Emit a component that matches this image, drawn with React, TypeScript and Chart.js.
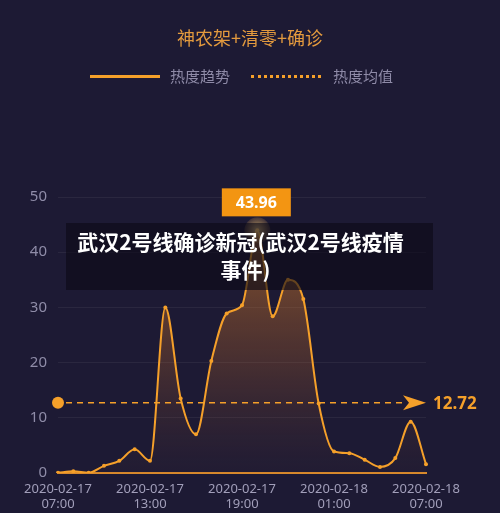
import React, { useEffect, useRef } from "react";
import { Chart, registerables } from "chart.js";

Chart.register(...registerables);

const chartTitle = "神农架+清零+确诊";
const legendTrend = "热度趋势";
const legendAverage = "热度均值";
const overlayLines = ["武汉2号线确诊新冠(武汉2号线疫情", "事件)"];

const timeLabels = [
  "2020-02-17 07:00", "2020-02-17 08:00", "2020-02-17 09:00", "2020-02-17 10:00",
  "2020-02-17 11:00", "2020-02-17 12:00", "2020-02-17 13:00", "2020-02-17 14:00",
  "2020-02-17 15:00", "2020-02-17 16:00", "2020-02-17 17:00", "2020-02-17 18:00",
  "2020-02-17 19:00", "2020-02-17 20:00", "2020-02-17 21:00", "2020-02-17 22:00",
  "2020-02-17 23:00", "2020-02-18 00:00", "2020-02-18 01:00", "2020-02-18 02:00",
  "2020-02-18 03:00", "2020-02-18 04:00", "2020-02-18 05:00", "2020-02-18 06:00",
  "2020-02-18 07:00",
];

const heatValues = [
  0.05, 0.3, 0.05, 1.3, 2.2, 4.3, 2.2, 30, 13.5, 7, 20.3, 28.9, 30.4,
  43.96, 28.4, 35, 31.5, 12.6, 3.9, 3.6, 2.4, 1.1, 2.7, 9.3, 1.6,
];

const averageValue = 12.72;
const peakValue = 43.96;

const ORANGE = "#f5a02a";
const BG = "rgb(29,26,52)";

const overlayPlugin = {
  id: "avgAndPeak",
  afterDatasetsDraw(chart: any) {
    const ctx = chart.ctx;
    const x = chart.scales.x;
    const y = chart.scales.y;
    const area = chart.chartArea;
    // average line
    const ay = y.getPixelForValue(averageValue);
    ctx.save();
    ctx.strokeStyle = ORANGE;
    ctx.lineWidth = 1.5;
    ctx.setLineDash([6, 5]);
    ctx.beginPath();
    ctx.moveTo(area.left + 8, ay);
    ctx.lineTo(area.right - 22, ay);
    ctx.stroke();
    ctx.setLineDash([]);
    ctx.fillStyle = ORANGE;
    ctx.beginPath();
    ctx.arc(area.left, ay, 6, 0, Math.PI * 2);
    ctx.fill();
    // arrow
    ctx.beginPath();
    ctx.moveTo(area.right - 23, ay - 7.5);
    ctx.lineTo(area.right, ay);
    ctx.lineTo(area.right - 23, ay + 7.5);
    ctx.lineTo(area.right - 17, ay);
    ctx.closePath();
    ctx.fill();
    ctx.font = "bold 17px 'Noto Sans', 'DejaVu Sans', sans-serif";
    ctx.textBaseline = "middle";
    ctx.textAlign = "left";
    ctx.fillText(averageValue.toFixed(2), area.right + 7, ay + 1);

    // peak glow + label
    const idx = heatValues.indexOf(peakValue);
    const px = x.getPixelForValue(idx);
    const py = y.getPixelForValue(peakValue);
    const g = ctx.createRadialGradient(px, py, 0, px, py, 13);
    g.addColorStop(0, "rgba(255,220,140,0.75)");
    g.addColorStop(1, "rgba(255,190,90,0.15)");
    ctx.fillStyle = g;
    ctx.beginPath();
    ctx.arc(px, py, 13, 0, Math.PI * 2);
    ctx.fill();
    const bw = 69, bh = 28;
    ctx.fillStyle = "#f39512";
    ctx.fillRect(px - bw / 2 - 1, py - 14 - bh, bw, bh);
    ctx.fillStyle = "#ffffff";
    ctx.textAlign = "center";
    ctx.font = "bold 16px 'Noto Sans', 'DejaVu Sans', sans-serif";
    ctx.fillText(peakValue.toFixed(2), px - 1, py - 14 - bh / 2 + 1);
    ctx.restore();
  },
};

export default function App() {
  const canvasRef = useRef<HTMLCanvasElement | null>(null);

  useEffect(() => {
    document.body.style.margin = "0";
    const canvas = canvasRef.current;
    if (!canvas) return;
    const chart = new Chart(canvas, {
      type: "line",
      data: {
        labels: timeLabels,
        datasets: [
          {
            label: legendTrend,
            data: heatValues,
            borderColor: ORANGE,
            borderWidth: 2,
            pointRadius: 2,
            pointBackgroundColor: ORANGE,
            pointBorderWidth: 0,
            cubicInterpolationMode: "monotone",
            fill: "origin",
            backgroundColor: (c: any) => {
              const area = c.chart.chartArea;
              if (!area) return "rgba(240,150,40,0.2)";
              const gr = c.chart.ctx.createLinearGradient(0, area.top + 30, 0, area.bottom);
              gr.addColorStop(0, "rgba(240,140,40,0.5)");
              gr.addColorStop(0.6, "rgba(200,110,40,0.22)");
              gr.addColorStop(1, "rgba(120,70,50,0.05)");
              return gr;
            },
          },
        ],
      },
      options: {
        animation: false,
        responsive: false,
        layout: { padding: { top: 197, right: 74, bottom: 0, left: 0 } },
        plugins: { legend: { display: false }, tooltip: { enabled: false }, title: { display: false } },
        scales: {
          x: {
            offset: false,
            grid: { display: false, drawTicks: false },
            border: { display: true, color: "#d98a2c", width: 2 },
            ticks: {
              autoSkip: false,
              maxRotation: 0,
              padding: 9,
              color: "#a29fba",
              font: { size: 13, family: "'Noto Sans', 'DejaVu Sans', sans-serif", lineHeight: 1.12 },
              callback: (_v: any, i: number) => (i % 6 === 0 ? timeLabels[i].split(" ") : ""),
            },
            afterFit: (s: any) => { s.height = 40; },
          },
          y: {
            min: 0,
            max: 50,
            ticks: {
              stepSize: 10,
              padding: 11,
              color: "#8f8ca8",
              font: { size: 15, family: "'Noto Sans', 'DejaVu Sans', sans-serif" },
            },
            grid: { color: "rgba(255,255,255,0.06)", drawTicks: false },
            border: { display: false },
            afterFit: (s: any) => { s.width = 58; },
          },
        },
      },
      plugins: [overlayPlugin],
    });
    return () => chart.destroy();
  }, []);

  const cjk = "'Noto Sans CJK SC', 'Noto Sans', sans-serif";

  return (
    <div style={{ position: "fixed", left: 0, top: 0, width: 500, height: 513, background: BG, overflow: "hidden" }}>
      <canvas ref={canvasRef} width={500} height={513} style={{ position: "absolute", left: 0, top: 0 }} />
      <div style={{ position: "absolute", top: 24, left: 0, width: 500, textAlign: "center", color: "#e39a3e", fontFamily: cjk, fontSize: 18, lineHeight: "26px" }}>
        {chartTitle}
      </div>
      <div style={{ position: "absolute", top: 66, left: 0, width: 500, height: 20, fontFamily: cjk, fontSize: 15, color: "#8f8ba8" }}>
        <div style={{ position: "absolute", left: 90, top: 9, width: 70, height: 3, background: ORANGE }} />
        <div style={{ position: "absolute", left: 170, top: 0, lineHeight: "20px" }}>{legendTrend}</div>
        <div style={{ position: "absolute", left: 251, top: 9, width: 70, height: 0, borderTop: `3px dotted ${ORANGE}` }} />
        <div style={{ position: "absolute", left: 333, top: 0, lineHeight: "20px" }}>{legendAverage}</div>
      </div>
      <div style={{ position: "absolute", left: 66, top: 223, width: 367, height: 67, background: "rgba(12,10,22,0.62)", color: "#ffffff", fontFamily: cjk, fontWeight: 700, fontSize: 21, lineHeight: "28px", textAlign: "center", padding: "4px 0", boxSizing: "border-box", whiteSpace: "nowrap" }}>
        <div style={{ position: "relative", left: -9 }}>{overlayLines[0]}</div>
        <div style={{ position: "relative", left: -4 }}>{overlayLines[1]}</div>
      </div>
    </div>
  );
}
